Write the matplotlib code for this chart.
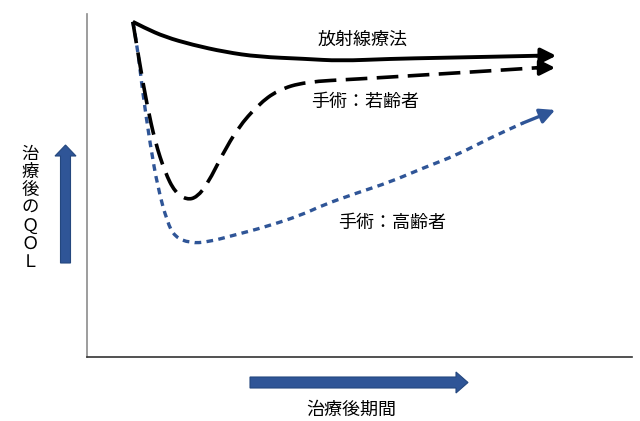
import matplotlib
matplotlib.use('Agg')
import matplotlib.pyplot as plt
from matplotlib.patches import FancyArrow, PathPatch
from matplotlib.path import Path
from matplotlib.transforms import IdentityTransform

plt.rcParams['font.family'] = ['Noto Sans CJK JP', 'DejaVu Sans']

# values (period 0-100, QOL 0-100)
radio_x = [8.4, 10.6, 14.3, 19.3, 25.3, 31.4, 40.0, 46.4, 55.6, 64.8, 73.9, 82.6, 86.1]
radio_y = [97.7, 95.9, 93.3, 91.0, 88.9, 87.5, 86.9, 86.3, 86.9, 87.2, 87.5, 87.8, 87.8]

young_x = [8.4, 9.7, 11.0, 12.5, 14.3, 16.1, 18.3, 20.2, 22.2, 24.8, 27.7, 31.4, 35.0, 40.0,
           49.5, 61.7, 73.9, 82.6, 85.9]
young_y = [97.7, 85.1, 73.5, 62.7, 53.9, 48.1, 45.8, 46.6, 50.7, 58.9, 66.8, 73.5, 77.8, 80.2,
           81.0, 82.2, 83.4, 84.3, 84.3]

old_x = [8.4, 9.2, 10.1, 11.6, 13.0, 14.7, 16.1, 18.9, 22.2, 27.2, 32.7, 39.4, 43.3, 49.5,
         55.6, 61.7, 67.9, 73.9, 80.0, 85.9]
old_y = [97.7, 91.0, 78.4, 61.8, 49.3, 39.4, 35.0, 33.2, 33.5, 35.6, 37.9, 41.4, 44.3, 47.8,
         51.0, 55.1, 58.9, 63.8, 68.2, 72.0]

labels = ['放射線療法', '手術：若齢者', '手術：高齢者']
label_pos = [(50.5, 92.4), (51.0, 74.3), (56.0, 39.1)]

blue = '#2F5597'

fig = plt.figure(figsize=(6.4, 4.21), dpi=100)
ax = fig.add_axes([0.136, 0.152, 0.8515, 0.815])
ax.set_xlim(0, 100)
ax.set_ylim(0, 100)
ax.set_xticks([])
ax.set_yticks([])
for s in ['top', 'right']:
    ax.spines[s].set_visible(False)
ax.spines['left'].set_color('#8c8c8c')
ax.spines['left'].set_linewidth(1.2)
ax.spines['bottom'].set_color('#333333')
ax.spines['bottom'].set_linewidth(1.2)

def curve(xs, ys, color, lw, dashes):
    # smooth quadratic path: read points act as control points
    pts = list(zip(xs[:-1], ys[:-1]))
    verts = [pts[0]]
    codes = [Path.MOVETO]
    for i in range(1, len(pts) - 1):
        mid = ((pts[i][0] + pts[i + 1][0]) / 2, (pts[i][1] + pts[i + 1][1]) / 2)
        verts += [pts[i], mid]
        codes += [Path.CURVE3, Path.CURVE3]
    verts.append(pts[-1])
    codes.append(Path.LINETO)
    patch = PathPatch(Path(verts, codes), fill=False, ec=color, lw=lw, joinstyle='round')
    if dashes:
        patch.set_linestyle((0, dashes))
    ax.add_patch(patch)
    ax.annotate('', xy=(xs[-1], ys[-1]), xytext=(xs[-2], ys[-2]),
                arrowprops=dict(arrowstyle='-|>,head_length=0.9,head_width=0.45',
                                color=color, lw=lw, shrinkA=0, shrinkB=0))

curve(old_x, old_y, blue, 2.4, (2.0, 1.6))
curve(young_x, young_y, 'black', 2.6, (6.0, 2.6))
curve(radio_x, radio_y, 'black', 2.8, None)

for t, (x, y) in zip(labels, label_pos):
    ax.text(x, y, t, fontsize=13, ha='center', va='center', color='black')

# decorative axis arrows (figure pixels)
fig.add_artist(FancyArrow(65.5, 158, 0, 118, width=10, head_width=21, head_length=11,
                          length_includes_head=True, color=blue, ec='#24477e', lw=0.8,
                          transform=IdentityTransform()))
fig.add_artist(FancyArrow(250, 38.5, 218, 0, width=11, head_width=21, head_length=12,
                          length_includes_head=True, color=blue, ec='#24477e', lw=0.8,
                          transform=IdentityTransform()))

fig.text(30 / 640, 1 - 208 / 421, '治\n療\n後\nの\nＱ\nＯ\nＬ', fontsize=12.5,
         ha='center', va='center', linespacing=1.0)
fig.text(351 / 640, 1 - 410 / 421, '治療後期間', fontsize=13, ha='center', va='center')

fig.savefig('out.png', dpi=100)
